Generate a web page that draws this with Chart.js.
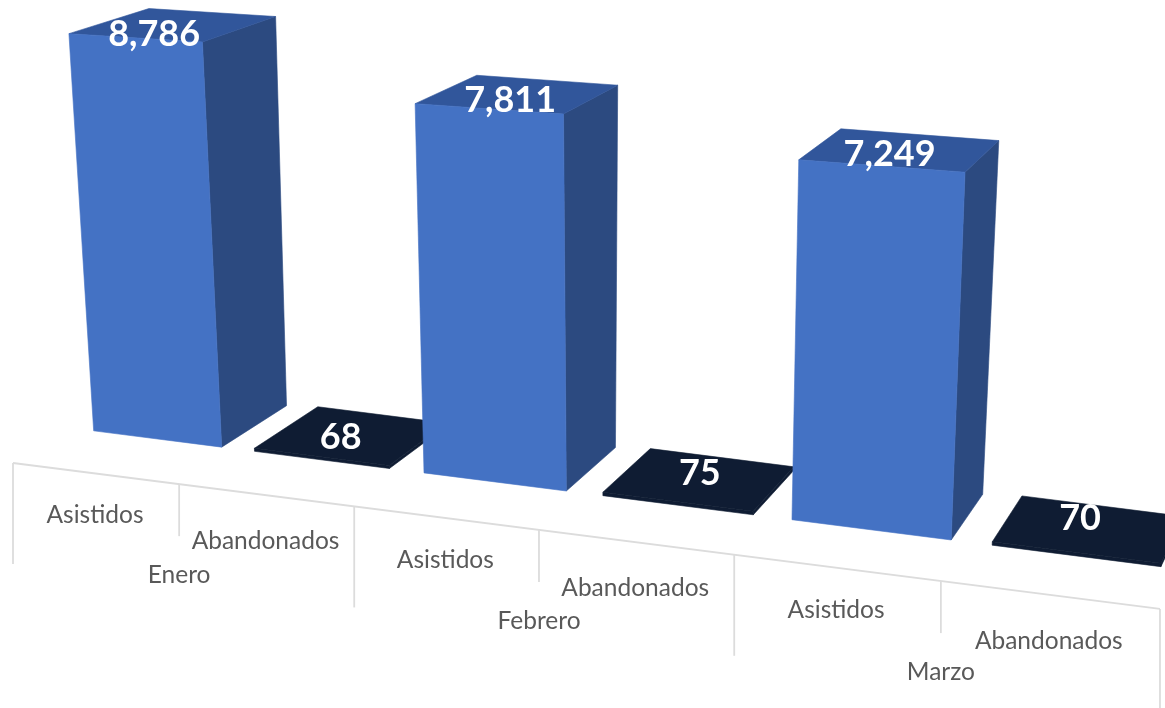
<!DOCTYPE html>
<html>
<head>
<meta charset="utf-8">
<style>html,body{margin:0;padding:0;background:#fff}canvas{display:block}</style>
<script src="https://cdn.jsdelivr.net/npm/chart.js@4/dist/chart.umd.min.js"></script>
</head>
<body>
<canvas id="c" width="1165" height="708"></canvas>
<script>
const categories = ['Asistidos','Abandonados','Asistidos','Abandonados','Asistidos','Abandonados'];
const months = ['Enero','Febrero','Marzo'];
const values = [8786,68,7811,75,7249,70];
const kindFront = ['#4472C4','#0F1C33'];
const kindSide  = ['#2C4A80','#0F1C33'];
const kindTop   = ['#31569B','#0F1C33'];

/* Perspective camera: scale pixels (u,v in 0..1) -> picture */
const cam = {
  x0:13, y0:463, a:969.5, e:52.8, c:0.153, d:-0.05,
  vx:587, vy:9417,           /* vanishing point of verticals */
  dx:1636, dy:-460,          /* vanishing point of depth */
  zFront:0.037, zBackTop:0.086, zBackFloor:0.081, markShiftX:5
};
/* small label adjustments, picture pixels, per bar */
const labelNudgeX = [0,-14,7,-2,-1,-10];
const labelNudgeY = [3,4,-1,-4,-4,-8];

function project(chart, px, py, z){
  const A = chart.chartArea;
  const u = (px - A.left) / (A.right - A.left);
  const v = (A.bottom - py) / (A.bottom - A.top);
  const D = cam.d * v;
  const w = 1 - cam.c*u + D;
  const X = (cam.x0 + cam.a*u + cam.vx*D) / w;
  const Y = (cam.y0 + cam.e*u + cam.vy*D) / w;
  return [X + z*(cam.dx - X), Y + z*(cam.dy - Y)];
}
function face(ctx, pts, fill){
  ctx.beginPath();
  pts.forEach((p,i)=> i ? ctx.lineTo(p[0],p[1]) : ctx.moveTo(p[0],p[1]));
  ctx.closePath();
  ctx.fillStyle = fill; ctx.fill();
  ctx.strokeStyle = fill; ctx.lineWidth = 0.6; ctx.stroke();
}
const perspective = {
  id:'perspective3d',
  beforeDatasetsDraw(chart){
    const ctx = chart.ctx, xs = chart.scales.x, ys = chart.scales.y, meta = chart.getDatasetMeta(0);
    const base = ys.getPixelForValue(0);
    ctx.save();
    /* axis line and ticks */
    ctx.strokeStyle = '#DCDCDC'; ctx.lineWidth = 1.8;
    const bandW = xs.getPixelForValue(1) - xs.getPixelForValue(0);
    const edge = i => xs.getPixelForValue(0) + (i - 0.5) * bandW;
    const line = (a,b)=>{ctx.beginPath();ctx.moveTo(a[0],a[1]);ctx.lineTo(b[0],b[1]);ctx.stroke();};
    line(project(chart,edge(0),base,0), project(chart,edge(6),base,0));
    for(let i=0;i<=6;i++){
      const p = project(chart,edge(i),base,0);
      line(p,[p[0],p[1]+(i%2===0?101:52)]);
    }
    /* category labels */
    ctx.fillStyle = '#595959'; ctx.textAlign='center'; ctx.textBaseline='middle';
    ctx.font = '24.5px Lato, "Open Sans", sans-serif';
    categories.forEach((t,i)=>{
      const p = project(chart,xs.getPixelForValue(i),base,0);
      ctx.fillText(t,p[0],p[1]+(i%2===0?42:46));
    });
    months.forEach((t,i)=>{
      const p = project(chart,edge(2*i+1),base,0);
      ctx.fillText(t,p[0],p[1]+91);
    });
    /* bars */
    const ptsOf = (x,y,z)=>{const p=project(chart,x,y,z);return [p[0]+cam.markShiftX,p[1]];};
    const zBackAt = y => {
      const s = (base - y)/(base - ys.top);
      return cam.zBackFloor + (cam.zBackTop - cam.zBackFloor)*Math.min(1,s/0.88);
    };
    meta.data.forEach((el,i)=>{
      const k = i%2, L = el.x-el.width/2, R = el.x+el.width/2, T = el.y, B = el.base;
      const f = cam.zFront, bt = zBackAt(T), bb = zBackAt(B);
      face(ctx,[ptsOf(R,T,f),ptsOf(R,T,bt),ptsOf(R,B,bb),ptsOf(R,B,f)],kindSide[k]);
      face(ctx,[ptsOf(L,T,f),ptsOf(L,T,bt),ptsOf(R,T,bt),ptsOf(R,T,f)],kindTop[k]);
      face(ctx,[ptsOf(L,T,f),ptsOf(R,T,f),ptsOf(R,B,f),ptsOf(L,B,f)],el.options.backgroundColor);
    });
    /* value labels */
    ctx.fillStyle='#FFFFFF'; ctx.font='bold 36px Lato, "Open Sans", sans-serif';
    meta.data.forEach((el,i)=>{
      const z = cam.zFront + (cam.zBackTop-cam.zFront)*(i%2===0?0.25:0.5);
      const p = ptsOf(el.x,el.y,z);
      ctx.fillText(values[i].toLocaleString('en-US'),p[0]+labelNudgeX[i],p[1]+labelNudgeY[i]);
    });
    ctx.restore();
    return false;
  }
};
new Chart(document.getElementById('c'),{
  type:'bar',
  data:{labels:categories,datasets:[{
    data:values,
    backgroundColor:values.map((_,i)=>kindFront[i%2]),
    barPercentage:0.8,categoryPercentage:1
  }]},
  options:{
    responsive:false,animation:false,
    layout:{padding:0},
    plugins:{legend:{display:false},tooltip:{enabled:false},title:{display:false}},
    scales:{
      x:{display:false,offset:true},
      y:{display:false,min:0,max:10000}
    }
  },
  plugins:[perspective]
});
</script>
</body>
</html>
